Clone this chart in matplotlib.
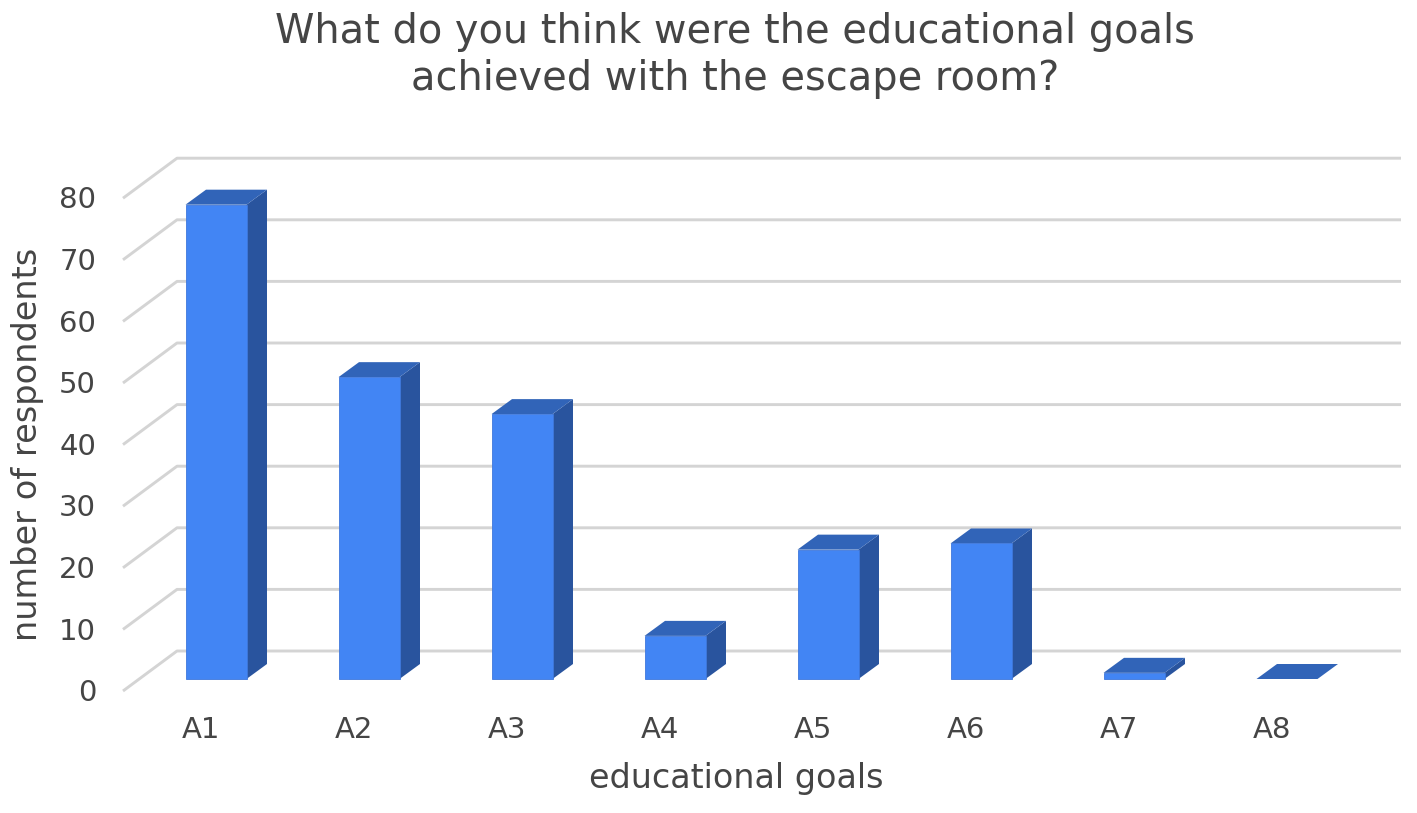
import matplotlib.pyplot as plt
from matplotlib.patches import Polygon

categories = ['A1', 'A2', 'A3', 'A4', 'A5', 'A6', 'A7', 'A8']
respondents = [77, 49, 43, 7, 21, 22, 1, 0]
y_ticks = [0, 10, 20, 30, 40, 50, 60, 70, 80]

plt.rcParams['font.family'] = ['DejaVu Sans']
text_col = '#454545'
front_col = '#4285f4'
side_col = '#29549e'
top_col = '#3164b8'
grid_col = '#d4d4d4'

W, H = 1417, 813
fig = plt.figure(figsize=(W / 100, H / 100), dpi=100)
ax = fig.add_axes([0, 0, 1, 1])

# one category = 153 px, one respondent = 6.16 px, A1 centre at x=216, zero at y=679
px_x = 153
px_y = 6.16
ax.set_xlim(-216 / px_x, (W - 216) / px_x)
ax.set_ylim(-(H - 679) / px_y, 679 / px_y)
ax.axis('off')

half = 30.5 / px_x
bar_dx = 20.5 / px_x
bar_dy = 15 / px_y

# walls of the fake 3d box
left = (123 - 216) / px_x
back = (177 - 216) / px_x
right = (1401 - 216) / px_x
front_off = -12 / px_y
back_off = 28 / px_y
for t in y_ticks:
    ax.plot([left, back, right], [t + front_off, t + back_off, t + back_off],
            color=grid_col, lw=2.1, zorder=1, solid_capstyle='butt')
    ax.text((96 - 216) / px_x, t + front_off - 0.35, str(t), ha='right', va='center',
            fontsize=21, color=text_col)

for i, (cat, v) in enumerate(zip(categories, respondents)):
    x0, x1 = i - half, i + half
    if v > 0:
        ax.add_patch(Polygon([(x1, 0), (x1 + bar_dx, bar_dy), (x1 + bar_dx, v + bar_dy), (x1, v)],
                             facecolor=side_col, edgecolor='none', zorder=3))
        ax.add_patch(Polygon([(x0, 0), (x1, 0), (x1, v), (x0, v)],
                             facecolor=front_col, edgecolor='#3f78dc', lw=0.6, zorder=4))
    ax.add_patch(Polygon([(x0, v), (x1, v), (x1 + bar_dx, v + bar_dy), (x0 + bar_dx, v + bar_dy)],
                         facecolor=top_col, edgecolor='none', zorder=3))
    ax.text(i - 34 / px_x, -51 / px_y, cat, ha='left', va='center', fontsize=21, color=text_col)

fig.text(735 / W, 1 - 55.5 / H, 'What do you think were the educational goals\nachieved with the escape room?',
         ha='center', va='center', fontsize=28.75, color=text_col, linespacing=1.22)
fig.text(736 / W, 1 - 778 / H, 'educational goals', ha='center', va='center', fontsize=24, color=text_col)
fig.text(28 / W, 1 - 444 / H, 'number of respondents', ha='center', va='center', rotation=90,
         fontsize=24.2, color=text_col)

fig.savefig('out.png', dpi=100)
